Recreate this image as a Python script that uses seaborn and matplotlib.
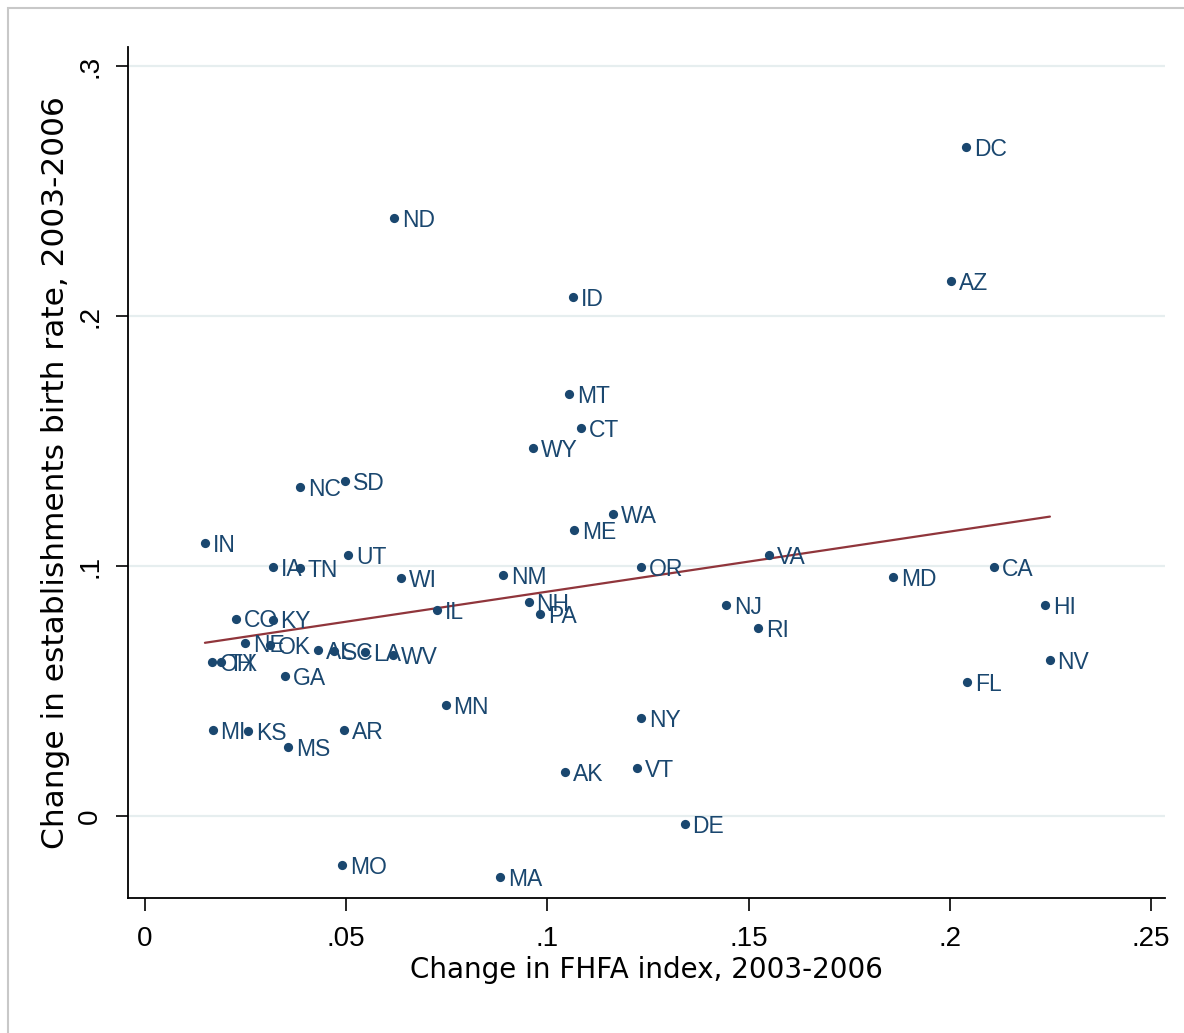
import numpy as np
import pandas as pd
import seaborn as sns
import matplotlib.pyplot as plt
from matplotlib.patches import Rectangle

states = ['DC', 'ND', 'AZ', 'ID', 'MT', 'CT', 'WY', 'NC', 'SD', 'WA',
          'ME', 'IN', 'UT', 'VA', 'IA', 'TN', 'OR', 'CA', 'MD', 'NM',
          'WI', 'HI', 'NJ', 'IL', 'NH', 'PA', 'RI', 'CO', 'KY', 'NE',
          'OK', 'AL', 'SC', 'LA', 'WV', 'OH', 'TX', 'GA', 'MN', 'MI',
          'KS', 'MS', 'AR', 'NY', 'AK', 'VT', 'DE', 'MO', 'MA', 'FL', 'NV']
fhfa = [0.2041, 0.0619, 0.2003, 0.1064, 0.1054, 0.1083, 0.0964, 0.0386, 0.0497, 0.1163,
        0.1067, 0.0149, 0.0505, 0.1551, 0.0318, 0.0386, 0.1233, 0.2110, 0.1859, 0.0890,
        0.0636, 0.2237, 0.1444, 0.0726, 0.0954, 0.0982, 0.1524, 0.0227, 0.0318, 0.0249,
        0.0311, 0.0430, 0.0470, 0.0547, 0.0616, 0.0167, 0.0189, 0.0348, 0.0748, 0.0169,
        0.0256, 0.0356, 0.0495, 0.1233, 0.1044, 0.1223, 0.1342, 0.0490, 0.0883, 0.2043, 0.2249]
birth = [0.2676, 0.2392, 0.2140, 0.2076, 0.1688, 0.1552, 0.1472, 0.1316, 0.1340, 0.1208,
         0.1144, 0.1092, 0.1044, 0.1044, 0.0996, 0.0992, 0.0996, 0.0996, 0.0956, 0.0964,
         0.0952, 0.0844, 0.0844, 0.0824, 0.0856, 0.0808, 0.0752, 0.0790, 0.0786, 0.0692,
         0.0684, 0.0664, 0.0660, 0.0656, 0.0644, 0.0616, 0.0616, 0.0560, 0.0444, 0.0344,
         0.0340, 0.0276, 0.0344, 0.0392, 0.0176, 0.0192, -0.0032, -0.0196, -0.0244, 0.0536, 0.0624]

df = pd.DataFrame({'state': states, 'fhfa': fhfa, 'birth': birth})

navy = '#1a476f'
maroon = '#90353b'

sns.set_style('white')
plt.rcParams['font.family'] = ['Liberation Sans', 'DejaVu Sans']

fig = plt.figure(figsize=(11.84, 10.33), dpi=100)
ax = fig.add_axes([128/1184, 1-898/1033, (1165-128)/1184, (898-47)/1033])

# light horizontal grid
for yv in [0, 0.1, 0.2, 0.3]:
    ax.axhline(yv, color='#e6eeef', lw=1.6, zorder=0)

sns.scatterplot(data=df, x='fhfa', y='birth', color=navy, s=44,
                edgecolor=navy, linewidth=0, ax=ax, zorder=3)
sns.regplot(data=df, x='fhfa', y='birth', scatter=False, ci=None,
            line_kws={'color': maroon, 'lw': 1.6}, ax=ax)

# state labels to the right of each marker
for st, xv, yv in zip(states, fhfa, birth):
    ax.annotate(st, (xv, yv), xytext=(5.5, -1.5), textcoords='offset points',
                ha='left', va='center', fontsize=16.5, color=navy, zorder=4)

ax.set_xlim(-0.00422, 0.2535)
ax.set_ylim(-0.0328, 0.3076)
ax.set_xticks([0, 0.05, 0.1, 0.15, 0.2, 0.25])
ax.set_xticklabels(['0', '.05', '.1', '.15', '.2', '.25'])
ax.set_yticks([0, 0.1, 0.2, 0.3])
ax.set_yticklabels(['0', '.1', '.2', '.3'], rotation=90, va='center')
ax.tick_params(axis='both', direction='out', length=9, width=1.2, color='black',
               labelsize=20, labelcolor='black', left=True, bottom=True)
ax.tick_params(axis='x', pad=11)
ax.tick_params(axis='y', pad=9)

ax.set_xlabel('Change in FHFA index, 2003-2006', fontsize=20, labelpad=3,
              family=['DejaVu Sans'], color='black')
ax.set_ylabel('Change in establishments birth rate, 2003-2006', fontsize=22.5,
              labelpad=5, family=['DejaVu Sans'], color='black')

for side in ['top', 'right']:
    ax.spines[side].set_visible(False)
for side in ['left', 'bottom']:
    ax.spines[side].set_color('black')
    ax.spines[side].set_linewidth(1.3)

fig.patches.append(Rectangle((8/1184, -0.05), 1.2, 1-8/1033+0.05,
                             transform=fig.transFigure, fill=False,
                             edgecolor='#c8c8c8', lw=1.5, zorder=-1))

fig.savefig('out.png', dpi=100)
